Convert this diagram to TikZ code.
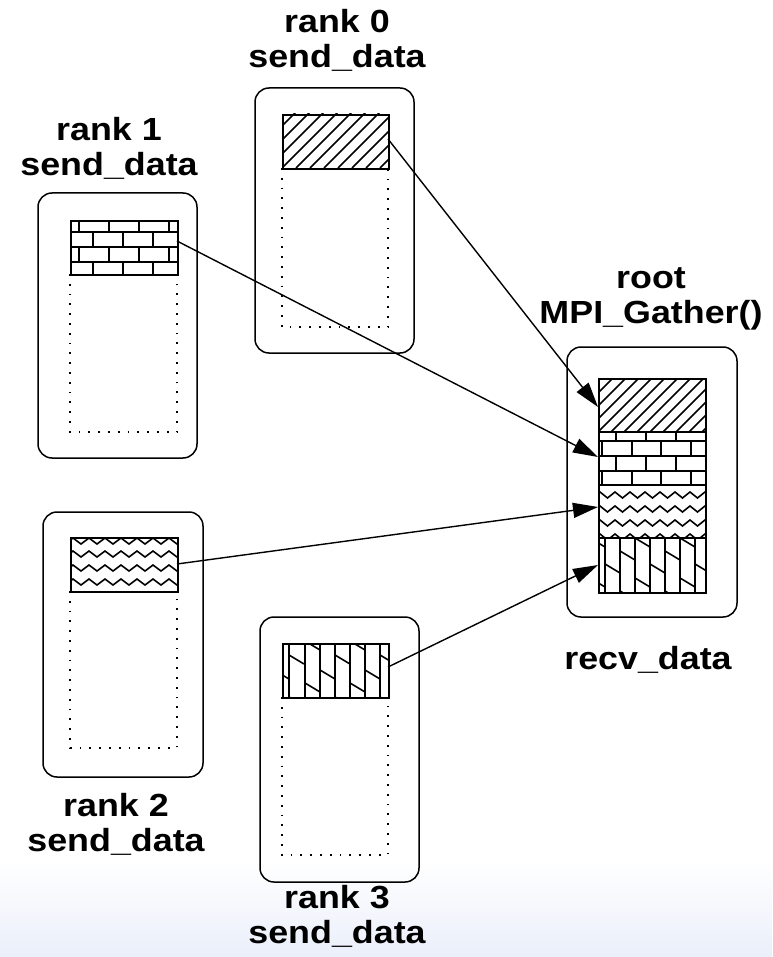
\documentclass[tikz,border=0pt]{standalone}
\usepackage{fontspec}
\newfontfamily\labfont[FakeStretch=1.12]{Liberation Sans}
\usetikzlibrary{arrows.meta}
\definecolor{bgblue}{RGB}{234,239,250}
\begin{document}
\begin{tikzpicture}[x=1pt,y=-1pt,
  box/.style={draw, line width=1.5pt, rounded corners=14pt},
  cell/.style={draw, line width=2pt},
  patline/.style={line width=1.6pt},
  dots/.style={line width=1.8pt, dash pattern=on 1.8pt off 8pt},
  arr/.style={line width=1.4pt, -{Triangle[length=25pt,width=15pt]}},
  lab/.style={align=center, inner sep=0pt, font=\labfont\bfseries\fontsize{32}{35}\selectfont}]
\path[use as bounding box] (0,0) rectangle (772,957);
\clip (0,0) rectangle (772,957);
\shade[top color=white, bottom color=bgblue] (0,860) rectangle (772,957);

% ---------- outer boxes ----------
\draw[box] (255,88) rectangle (414,353);
\draw[box] (38,193) rectangle (197,458);
\draw[box] (43,512) rectangle (203,777);
\draw[box] (260,617) rectangle (419,882);
\draw[box] (567,347) rectangle (737,617);

% ---------- rank 0 : hatch ----------
\begin{scope}
  \clip (282,114) rectangle (388,168);
  \foreach \k in {-5,...,8} \draw[patline] ({282+\k*14},168) -- ++(60,-60);
\end{scope}
\node[cell, anchor=north west, minimum width=106pt, minimum height=54pt, inner sep=0pt] (p0) at (282,114) {};
\draw[dots] (282,168) -- (282,327) -- (388,327) -- (388,168);

% ---------- rank 1 : bricks ----------
\begin{scope}
  \foreach \y in {232,247,262} \draw[patline] (70,\y) -- (177,\y);
  \foreach \x in {79,109,139,169} {\draw[patline] (\x,220) -- (\x,232); \draw[patline] (\x,247) -- (\x,262);}
  \foreach \x in {93,123,153} {\draw[patline] (\x,232) -- (\x,247); \draw[patline] (\x,262) -- (\x,274);}
\end{scope}
\node[cell, anchor=north west, minimum width=107pt, minimum height=54pt, inner sep=0pt] (p1) at (70,220) {};
\draw[dots] (70,274) -- (70,432) -- (177,432) -- (177,274);

% ---------- rank 2 : zigzag ----------
\begin{scope}
  \clip (70,537) rectangle (177,591);
  \foreach \t in {538,551,565,579}
    \draw[patline] (57,\t) \foreach \i in {0,...,8} { -- ++(8,6) -- ++(8,-6) };
\end{scope}
\node[cell, anchor=north west, minimum width=107pt, minimum height=54pt, inner sep=0pt] (p2) at (70,537) {};
\draw[dots] (70,591) -- (70,748) -- (177,748) -- (177,591);

% ---------- rank 3 : verticals + diagonals ----------
\begin{scope}
  \clip (282,643) rectangle (388,697);
  \foreach \x in {289,305,320,335,350,365,380} \draw[patline] (\x,643) -- (\x,697);
  \foreach \c/\o in {274/27,289/12,305/-2,320/27,335/12,350/-2,365/27,380/12}
    \foreach \j in {-1,0,1} \draw[patline] (\c,{643+\o+\j*42}) -- ++(15,9);
\end{scope}
\node[cell, anchor=north west, minimum width=106pt, minimum height=54pt, inner sep=0pt] (p3) at (282,643) {};
\draw[dots] (282,697) -- (282,855) -- (388,855) -- (388,697);

% ---------- root : gathered data ----------
\begin{scope}
  \clip (598,378) rectangle (705,432);
  \foreach \k in {-5,...,8} \draw[patline] ({598+\k*13},432) -- ++(60,-60);
\end{scope}
\begin{scope}
  \foreach \y in {441,456,471} \draw[patline] (598,\y) -- (705,\y);
  \foreach \x in {616,646,676} {\draw[patline] (\x,432) -- (\x,441); \draw[patline] (\x,456) -- (\x,471);}
  \foreach \x in {602,632,661,691} {\draw[patline] (\x,441) -- (\x,456); \draw[patline] (\x,471) -- (\x,485);}
\end{scope}
\begin{scope}
  \clip (598,485) rectangle (705,538);
  \foreach \t in {492,506,520,534}
    \draw[patline] (585,\t) \foreach \i in {0,...,8} { -- ++(7.5,6) -- ++(7.5,-6) };
\end{scope}
\begin{scope}
  \clip (598,538) rectangle (705,592);
  \foreach \x in {605,620,635,650,665,680,695} \draw[patline] (\x,538) -- (\x,592);
  \foreach \c/\o in {590/0,605/26,620/13,635/0,650/26,665/13,680/0,695/26}
    \foreach \j in {-1,0,1} \draw[patline] (\c,{538+\o+\j*40}) -- ++(15,9);
\end{scope}
\node[cell, anchor=north west, minimum width=107pt, minimum height=214pt, inner sep=0pt] (r) at (598,378) {};
\draw[cell] (598,432) -- (705,432);
\draw[cell] (598,485) -- (705,485);
\draw[cell] (598,538) -- (705,538);

% ---------- connector ends ----------
\coordinate (s0) at (388,139);
\coordinate (s1) at (177,241);
\coordinate (s2) at (177,564);
\coordinate (s3) at (388,667);
\coordinate (t0) at (598,407);
\coordinate (t1) at (598,457);
\coordinate (t2) at (598,507);
\coordinate (t3) at (598,565);
\draw[arr] (s0) -- (t0);
\draw[arr] (s1) -- (t1);
\draw[arr] (s2) -- (t2);
\draw[arr] (s3) -- (t3);

% ---------- labels ----------
\node[lab] (l0) at (337,40) {rank 0\\send\_data};
\node[lab] (l1) at (109,148) {rank 1\\send\_data};
\node[lab] (lr) at (651,299) {root\\MPI\_Gather()};
\node[lab] (lv) at (648,660) {recv\_data};
\node[lab] (l2) at (116,824) {rank 2\\send\_data};
\node[lab] (l3) at (337,916) {rank 3\\send\_data};
\end{tikzpicture}
\end{document}
